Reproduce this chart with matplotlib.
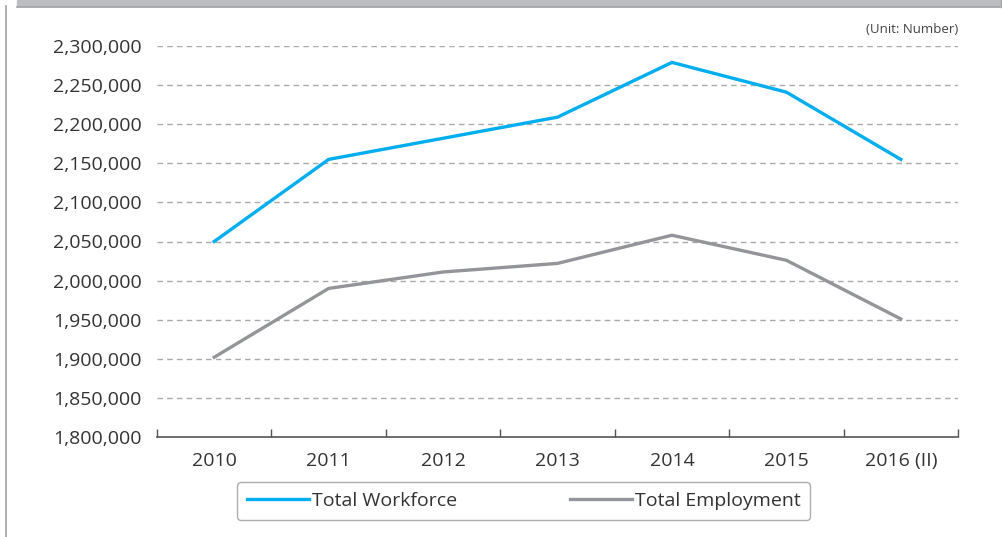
import numpy as np
import matplotlib
matplotlib.use("Agg")
import matplotlib.pyplot as plt
from matplotlib.patches import Rectangle
from matplotlib.ticker import FuncFormatter, FixedLocator

plt.rcParams['font.family'] = ['Open Sans', 'DejaVu Sans']

years = ["2010", "2011", "2012", "2013", "2014", "2015", "2016 (II)"]
workforce = [2050000, 2155000, 2182000, 2209000, 2279000, 2241000, 2155000]
employment = [1902000, 1990000, 2011000, 2022000, 2058000, 2026000, 1951000]

blue = "#00aeef"
grey = "#939598"
txt = "#333333"

fig = plt.figure(figsize=(10.03, 5.37), dpi=100)
ax = fig.add_axes([157 / 1003, 1 - 437 / 537, (958 - 157) / 1003, (437 - 46) / 537])

x = np.arange(len(years))
ax.plot(x, workforce, color=blue, lw=2.4, solid_joinstyle="miter", label="Total Workforce", zorder=3)
ax.plot(x, employment, color=grey, lw=2.4, solid_joinstyle="miter", label="Total Employment", zorder=3)

ax.set_xlim(-0.5, len(years) - 0.5)
ax.set_ylim(1800000, 2300000)
ax.set_yticks(np.arange(1800000, 2300001, 50000))
ax.yaxis.set_major_formatter(FuncFormatter(lambda v, p: "{:,.0f}".format(v)))
ax.tick_params(axis="y", length=0, pad=11, labelsize=14, labelcolor=txt)

# category boundaries get the ticks, centres get the labels
ax.xaxis.set_major_locator(FixedLocator(np.arange(len(years) + 1) - 0.5))
ax.xaxis.set_minor_locator(FixedLocator(x))
ax.set_xticklabels([], minor=False)
ax.set_xticklabels(years, minor=True)
ax.tick_params(axis="x", which="major", direction="in", length=6, width=1, color="#555555")
ax.tick_params(axis="x", which="minor", length=0, pad=11, labelsize=14, labelcolor=txt)

for s in ["top", "right", "left"]:
    ax.spines[s].set_visible(False)
ax.spines["bottom"].set_color("#555555")
ax.spines["bottom"].set_linewidth(1.2)

for v in np.arange(1850000, 2300001, 50000):
    ax.axhline(v, color="#aaaaaa", lw=1, ls=(0, (4, 3)), zorder=1)

ax.text(1.0, 1.025, "(Unit: Number)", transform=ax.transAxes, ha="right", va="bottom",
        fontsize=9.5, color="#444444")

leg = fig.legend(loc="center", bbox_to_anchor=(523.5 / 1003, 1 - 501 / 537), ncol=2,
                 fontsize=14, frameon=True, fancybox=True, handlelength=3.2,
                 handletextpad=0.15, columnspacing=5.8, borderpad=0.5,
                 borderaxespad=0)
leg.get_frame().set_edgecolor("#999999")
leg.get_frame().set_linewidth(1)
for t in leg.get_texts():
    t.set_color(txt)

# page decoration: grey band on top and a rule on the left
fig.patches.append(Rectangle((17 / 1003, 1 - 6 / 537), 983 / 1003, 6 / 537,
                             transform=fig.transFigure, color="#bcbdc0", zorder=0))
fig.lines.append(plt.Line2D([17 / 1003, 1000 / 1003], [1 - 6.5 / 537] * 2,
                            transform=fig.transFigure, color="#a0a1a4", lw=1.2))
fig.lines.append(plt.Line2D([6.5 / 1003] * 2, [0, 1 - 6 / 537],
                            transform=fig.transFigure, color="#a0a1a4", lw=1.2))
fig.lines.append(plt.Line2D([1001 / 1003] * 2, [1 - 7 / 537, 1],
                            transform=fig.transFigure, color="#a0a1a4", lw=1.0))

fig.savefig("out.png", dpi=100)
